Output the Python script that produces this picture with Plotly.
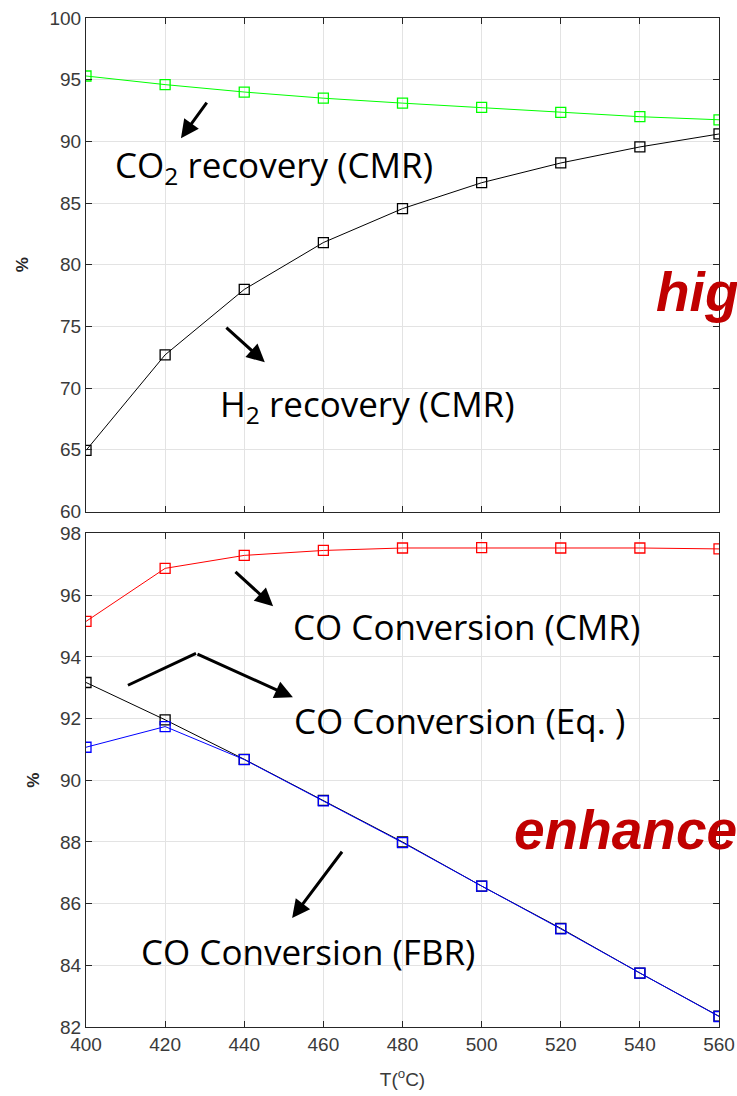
import plotly.graph_objects as go
from plotly.subplots import make_subplots

# Temperature (°C)
temperature = [400, 420, 440, 460, 480, 500, 520, 540, 560]

# Upper panel: recoveries in the membrane reactor (%)
co2_recovery_cmr = [95.3, 94.6, 94.0, 93.5, 93.1, 92.75, 92.35, 92.0, 91.75]
h2_recovery_cmr = [64.95, 72.7, 78.0, 81.8, 84.55, 86.65, 88.25, 89.55, 90.6]

# Lower panel: CO conversion (%)
co_conv_cmr = [95.15, 96.87, 97.29, 97.45, 97.53, 97.54, 97.53, 97.53, 97.5]
co_conv_eq = [93.17, 91.96, 90.68, 89.35, 88.0, 86.57, 85.2, 83.75, 82.35]
co_conv_fbr = [91.07, 91.74, 90.67, 89.33, 87.98, 86.57, 85.18, 83.75, 82.34]

x_ticks = [400, 420, 440, 460, 480, 500, 520, 540, 560]

fig = make_subplots(rows=2, cols=1, shared_xaxes=False, vertical_spacing=0.0218)

def add_series(y, color, row):
    fig.add_trace(go.Scatter(
        x=temperature, y=y, mode="lines+markers",
        line=dict(color=color, width=1),
        marker=dict(symbol="square-open", size=10, color=color, line=dict(width=1.3)),
        showlegend=False), row=row, col=1)

add_series(co2_recovery_cmr, "#00ff00", 1)
add_series(h2_recovery_cmr, "#000000", 1)
add_series(co_conv_cmr, "#ff0000", 2)
add_series(co_conv_eq, "#000000", 2)
add_series(co_conv_fbr, "#0000ff", 2)

axis_style = dict(
    showline=True, linecolor="#262626", linewidth=1, mirror="ticks",
    ticks="inside", ticklen=6, tickcolor="#262626",
    showgrid=True, gridcolor="#e3e3e3", gridwidth=1, zeroline=False,
    automargin=False,
    tickfont=dict(family="Liberation Sans, Arial", size=19, color="#3a3a3a"),
)

fig.update_xaxes(**axis_style, range=[400, 560], tickvals=x_ticks)
fig.update_xaxes(showticklabels=False, row=1, col=1)
fig.update_xaxes(title=dict(text="T(<sup>o</sup>C)", font=dict(family="Liberation Sans, Arial", size=19, color="#3a3a3a"), standoff=18), row=2, col=1)
fig.update_yaxes(**axis_style)
fig.update_yaxes(range=[60, 100], tickvals=[60, 65, 70, 75, 80, 85, 90, 95, 100], row=1, col=1)
fig.update_yaxes(range=[82, 98], tickvals=[82, 84, 86, 88, 90, 92, 94, 96, 98], row=2, col=1)
fig.update_yaxes(title=dict(text="<b>%</b>", font=dict(family="Liberation Sans, Arial", size=17, color="#262626"), standoff=16))

label_font = dict(family="Open Sans", size=35, color="#000000")

texts = [
    ("CO<sub>2</sub> recovery (CMR)", 447.5, 88.0, "x", "y"),
    ("H<sub>2</sub> recovery (CMR)", 471.2, 68.6, "x", "y"),
    ("CO Conversion (CMR)", 496.3, 95.0, "x2", "y2"),
    ("CO Conversion (Eq. )", 494.3, 91.95, "x2", "y2"),
    ("CO Conversion (FBR)", 456.0, 84.45, "x2", "y2"),
]
for txt, x, y, xr, yr in texts:
    fig.add_annotation(text=txt, x=x, y=y, xref=xr, yref=yr, showarrow=False,
                       font=label_font, xanchor="center", yanchor="middle")

# Pointer arrows (tail -> head)
arrows = [
    (430.8, 93.27, 424.0, 90.26, "x", "y"),
    (435.1, 75.01, 445.2, 72.09, "x", "y"),
    (437.4, 96.80, 447.3, 95.64, "x2", "y2"),
    (427.8, 94.11, 452.3, 92.69, "x2", "y2"),
    (465.0, 87.73, 452.1, 85.53, "x2", "y2"),
]
for tx, ty, hx, hy, xr, yr in arrows:
    fig.add_annotation(x=hx, y=hy, ax=tx, ay=ty, xref=xr, yref=yr, axref=xr, ayref=yr,
                       text="", showarrow=True, arrowhead=2, arrowsize=1.2,
                       arrowwidth=3, arrowcolor="#000000", standoff=0, startstandoff=0)

# First leg of the bent pointer
fig.add_shape(type="line", x0=410.6, y0=93.08, x1=427.8, y1=94.11, xref="x2", yref="y2",
              line=dict(color="#000000", width=3))

red_font = dict(family="Liberation Sans, Arial", size=55, color="#c00000")
fig.add_annotation(text="<b><i>higher</i></b>", x=0.897, y=0.728, xref="paper", yref="paper",
                   showarrow=False, xanchor="left", yanchor="middle", font=red_font)
fig.add_annotation(text="<b><i>enhanced</i></b>", x=0.6730, y=0.1955, xref="paper", yref="paper",
                   showarrow=False, xanchor="left", yanchor="middle", font=red_font)

fig.update_layout(
    width=737, height=1096,
    margin=dict(l=86, r=18, t=18, b=69, autoexpand=False),
    paper_bgcolor="white", plot_bgcolor="white",
)

fig.write_html("out.html")
